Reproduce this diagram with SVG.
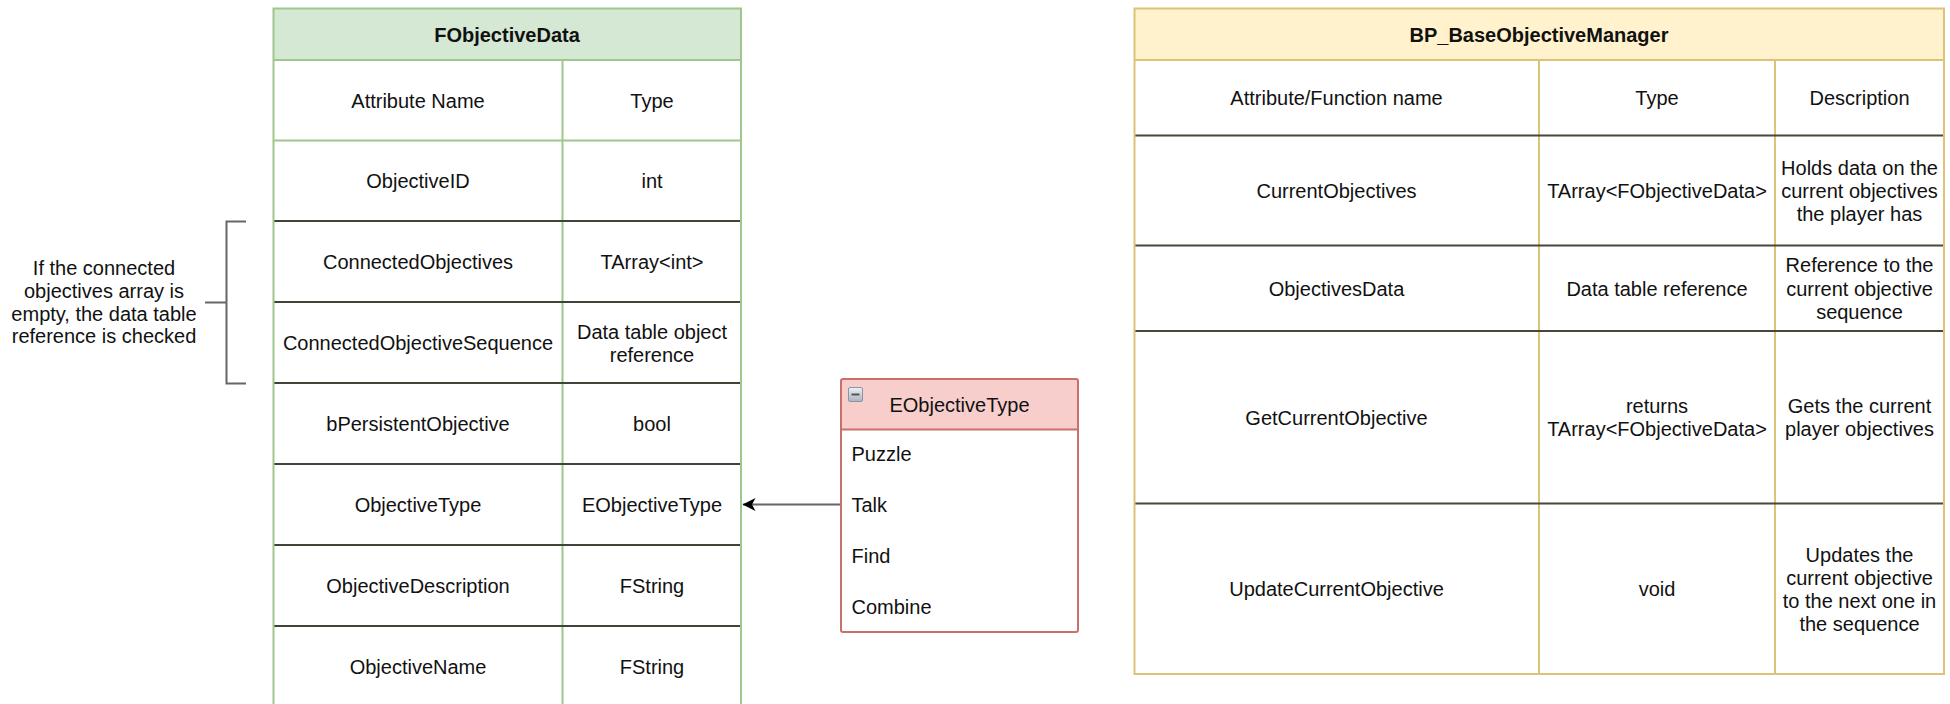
<svg xmlns="http://www.w3.org/2000/svg" width="1950" height="704" viewBox="0 0 1950 704">
<style>
text{font-family:"Liberation Sans",Arial,sans-serif;font-size:20px;fill:#111;}
.c{text-anchor:middle;}
.b{font-weight:bold;}
.gline{stroke:#9fc68d;stroke-width:2;fill:none;}
.yline{stroke:#dcc377;stroke-width:2;fill:none;}
.rline{stroke:#c9706c;stroke-width:2;fill:none;}
.gsep{stroke:#3c4538;stroke-width:2.2;}
.ysep{stroke:#4a4638;stroke-width:2.2;}
.conn{stroke:#666;stroke-width:2;fill:none;}
</style>
<defs>
<marker id="arr" markerWidth="14" markerHeight="14" refX="12.5" refY="7" orient="auto" markerUnits="userSpaceOnUse">
<path d="M0,0.5 L13,7 L0,13.5 L3.5,7 Z" fill="#000"/>
</marker>
<linearGradient id="ico" x1="0" y1="0" x2="0" y2="1">
<stop offset="0" stop-color="#eef1f5"/>
<stop offset="1" stop-color="#aab3bf"/>
</linearGradient>
</defs>
<rect width="1950" height="704" fill="#fff"/>

<g id="FObjectiveData">
<rect x="273.5" y="8.5" width="467.5" height="698" fill="#fff"/>
<rect x="273.5" y="8.5" width="467.5" height="51.5" fill="#d5e8d4"/>
<line class="gline" x1="273.5" y1="60" x2="741" y2="60"/>
<line class="gline" x1="273.5" y1="140.5" x2="741" y2="140.5"/>
<line class="gline" x1="562.5" y1="60" x2="562.5" y2="707"/>
<line class="gsep" x1="273.5" y1="221" x2="741" y2="221"/>
<line class="gsep" x1="273.5" y1="302" x2="741" y2="302"/>
<line class="gsep" x1="273.5" y1="383" x2="741" y2="383"/>
<line class="gsep" x1="273.5" y1="464" x2="741" y2="464"/>
<line class="gsep" x1="273.5" y1="545" x2="741" y2="545"/>
<line class="gsep" x1="273.5" y1="626" x2="741" y2="626"/>
<rect class="gline" x="273.5" y="8.5" width="467.5" height="698"/>
<text class="c b" x="507" y="41.5">FObjectiveData</text>
<text class="c" x="418" y="107.75">Attribute Name</text>
<text class="c" x="652" y="107.75">Type</text>
<text class="c" x="418" y="188.25">ObjectiveID</text>
<text class="c" x="652" y="188.25">int</text>
<text class="c" x="418" y="269">ConnectedObjectives</text>
<text class="c" x="652" y="269">TArray&lt;int&gt;</text>
<text class="c" x="418" y="350">ConnectedObjectiveSequence</text>
<text class="c" x="652" y="338.5">Data table object</text>
<text class="c" x="652" y="361.5">reference</text>
<text class="c" x="418" y="431">bPersistentObjective</text>
<text class="c" x="652" y="431">bool</text>
<text class="c" x="418" y="512">ObjectiveType</text>
<text class="c" x="652" y="512">EObjectiveType</text>
<text class="c" x="418" y="593">ObjectiveDescription</text>
<text class="c" x="652" y="593">FString</text>
<text class="c" x="418" y="674">ObjectiveName</text>
<text class="c" x="652" y="674">FString</text>
</g>

<g id="note">
<path class="conn" d="M246,221.5 L226.5,221.5 L226.5,383.5 L246,383.5 M205,302.5 L226.5,302.5"/>
<text class="c" x="104" y="275">If the connected</text>
<text class="c" x="104" y="297.8">objectives array is</text>
<text class="c" x="104" y="320.6">empty, the data table</text>
<text class="c" x="104" y="343.4">reference is checked</text>
</g>

<g id="EObjectiveType">
<rect x="841" y="379" width="237" height="253" rx="2" fill="#fff"/>
<path d="M843,379 H1076 A2,2 0 0 1 1078,381 V429.5 H841 V381 A2,2 0 0 1 843,379 Z" fill="#f8cecc"/>
<line class="rline" x1="841" y1="429.5" x2="1078" y2="429.5"/>
<rect class="rline" x="841" y="379" width="237" height="253" rx="2"/>
<rect x="848.5" y="387.5" width="14" height="14" rx="1.5" fill="url(#ico)" stroke="#8a95a5" stroke-width="1"/>
<line x1="851.5" y1="394.5" x2="859.5" y2="394.5" stroke="#555" stroke-width="2"/>
<text class="c" x="959.5" y="411.5">EObjectiveType</text>
<text x="851.5" y="461">Puzzle</text>
<text x="851.5" y="512">Talk</text>
<text x="851.5" y="562.5">Find</text>
<text x="851.5" y="613.5">Combine</text>
</g>

<g id="BP_BaseObjectiveManager">
<rect x="1134.5" y="8.5" width="809.5" height="665.5" fill="#fff"/>
<rect x="1134.5" y="8.5" width="809.5" height="51.5" fill="#fff2cc"/>
<line class="yline" x1="1134.5" y1="60" x2="1944" y2="60"/>
<line class="yline" x1="1539" y1="60" x2="1539" y2="674"/>
<line class="yline" x1="1775" y1="60" x2="1775" y2="674"/>
<line class="ysep" x1="1134.5" y1="135.5" x2="1944" y2="135.5"/>
<line class="ysep" x1="1134.5" y1="245.5" x2="1944" y2="245.5"/>
<line class="ysep" x1="1134.5" y1="331" x2="1944" y2="331"/>
<line class="ysep" x1="1134.5" y1="503.5" x2="1944" y2="503.5"/>
<rect class="yline" x="1134.5" y="8.5" width="809.5" height="665.5"/>
<text class="c b" x="1539" y="41.5">BP_BaseObjectiveManager</text>
<text class="c" x="1336.5" y="105.25">Attribute/Function name</text>
<text class="c" x="1657" y="105.25">Type</text>
<text class="c" x="1859.5" y="105.25">Description</text>
<text class="c" x="1336.5" y="198">CurrentObjectives</text>
<text class="c" x="1657" y="198">TArray&lt;FObjectiveData&gt;</text>
<text class="c" x="1859.5" y="175">Holds data on the</text>
<text class="c" x="1859.5" y="198">current objectives</text>
<text class="c" x="1859.5" y="221">the player has</text>
<text class="c" x="1336.5" y="295.75">ObjectivesData</text>
<text class="c" x="1657" y="295.75">Data table reference</text>
<text class="c" x="1859.5" y="272.25">Reference to the</text>
<text class="c" x="1859.5" y="295.75">current objective</text>
<text class="c" x="1859.5" y="319.25">sequence</text>
<text class="c" x="1336.5" y="424.75">GetCurrentObjective</text>
<text class="c" x="1657" y="413">returns</text>
<text class="c" x="1657" y="436">TArray&lt;FObjectiveData&gt;</text>
<text class="c" x="1859.5" y="413">Gets the current</text>
<text class="c" x="1859.5" y="436">player objectives</text>
<text class="c" x="1336.5" y="596.25">UpdateCurrentObjective</text>
<text class="c" x="1657" y="596.25">void</text>
<text class="c" x="1859.5" y="561.5">Updates the</text>
<text class="c" x="1859.5" y="584.5">current objective</text>
<text class="c" x="1859.5" y="607.5">to the next one in</text>
<text class="c" x="1859.5" y="630.5">the sequence</text>
</g>

<g id="connectors">
<path class="conn" d="M840,504.5 L743,504.5" marker-end="url(#arr)"/>
</g>
</svg>
